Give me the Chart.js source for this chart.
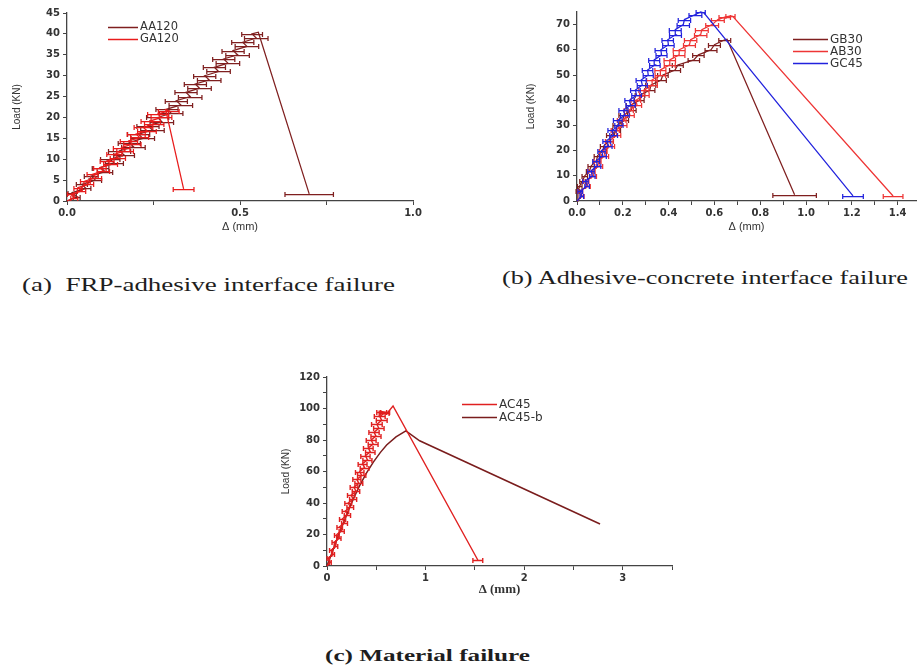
<!DOCTYPE html>
<html><head><meta charset="utf-8">
<script src="https://cdn.jsdelivr.net/npm/chart.js@4.4.0/dist/chart.umd.min.js"></script>
<style>
html,body{margin:0;padding:0;background:#fff;width:918px;height:668px;overflow:hidden;position:relative;}
.wrap{position:absolute;}
.cap{position:absolute;font-family:"Liberation Serif","Times New Roman",serif;color:#1e1e1e;white-space:nowrap;transform-origin:0 50%;line-height:1;}
</style></head><body>
<div class="wrap" style="left:0;top:0"><canvas id="ca" width="440" height="240"></canvas></div>
<div class="wrap" style="left:510px;top:0"><canvas id="cb" width="408" height="240"></canvas></div>
<div class="wrap" style="left:270px;top:360px"><canvas id="cc" width="420" height="245"></canvas></div>
<div class="cap" id="capA" data-left="22" data-cy="285" data-w="373" style="font-size:18px">(a)&nbsp; FRP-adhesive interface failure</div>
<div class="cap" id="capB" data-left="502" data-cy="278" data-w="406" style="font-size:18px">(b) Adhesive-concrete interface failure</div>
<div class="cap" id="capC" data-left="325" data-cy="656" data-w="205" style="font-size:16px;font-weight:bold">(c) Material failure</div>
<script>
// ---------- DATA ----------
// (a) FRP-adhesive interface failure
const aa120X = [0,0.028,0.015,0.055,0.043,0.082,0.070,0.110,0.097,0.137,0.125,0.165,0.152,0.192,0.180,0.219,0.207,0.247,0.234,0.274,0.262,0.301,0.289,0.329,0.316,0.356,0.344,0.383,0.371,0.411,0.398,0.438,0.426,0.465,0.453,0.493,0.480,0.520,0.508,0.547,0.535,0.553,0.700];
const aa120Y = [0,1,2,3,4,5,6,7,8,9,10,11,12,13,14,15,16,17,18,19,20,21,22,23,24,25,26,27,28,29,30,31,32,33,34,35,36,37,38,39,40,40.4,1.7];
const aa120Err = [0,0.01,0.012,0.014,0.016,0.018,0.02,0.022,0.024,0.026,0.028,0.03,
  0.032,0.034,0.032,0.034,0.032,0.034,0.032,0.034,0.032,0.034,0.032,0.034,0.032,0.034,0.032,0.034,0.032,0.034,0.032,0.034,0.032,0.034,0.032,0.034,0.032,0.034,0.032,0.034,0.03,0,0.07];
const ga120X = [0,0.021,0.011,0.042,0.032,0.063,0.053,0.084,0.074,0.105,0.095,0.126,0.116,0.147,0.137,0.168,0.158,0.189,0.179,0.210,0.200,0.231,0.221,0.252,0.242,0.273,0.263,0.294,0.285,0.337];
const ga120Y = [0,0.8,1.6,2.4,3.2,4.0,4.8,5.6,6.4,7.2,8.0,8.8,9.6,10.4,11.2,12.0,12.8,13.6,14.4,15.2,16.0,16.8,17.6,18.4,19.2,20.0,20.8,21.6,21.9,2.9];
const ga120Err = [0,0.01,0.01,0.012,0.012,0.014,0.014,0.016,0.016,0.018,0.018,0.02,0.02,0.022,0.022,0.024,0.024,0.025,0.025,0.026,0.026,0.027,0.027,0.028,0.028,0.03,0.03,0.03,0,0.03];
// (b) Adhesive-concrete interface failure
const gb30X = [0,0.004,0.012,0.024,0.034,0.055,0.062,0.085,0.090,0.113,0.118,0.142,0.146,0.172,0.175,0.206,0.202,0.238,0.235,0.272,0.275,0.318,0.322,0.367,0.375,0.428,0.440,0.510,0.530,0.585,0.600,0.645,0.655,0.950];
const gb30Y = [0,4,6,8,10,12,14,16,18,20,22,24,26,28,30,32,34,36,38,40,42,44,46,48,50,52,54,56,58,60,62,64,64.2,2.5];
const gb30Err = [0,0.008,0.01,0.012,0.012,0.014,0.014,0.015,0.015,0.016,0.016,0.017,0.017,0.018,0.018,0.019,0.019,0.02,0.02,0.021,0.021,0.022,0.022,0.023,0.023,0.024,0.024,0.025,0.025,0.026,0.026,0.026,0,0.095];
const ab30X = [0,0.023,0.015,0.048,0.040,0.073,0.065,0.098,0.090,0.123,0.115,0.148,0.141,0.174,0.167,0.200,0.195,0.231,0.226,0.262,0.257,0.294,0.292,0.329,0.327,0.364,0.364,0.405,0.405,0.446,0.446,0.491,0.496,0.540,0.545,0.590,0.615,0.645,0.670,0.680,1.380];
const ab30Y = [0,2,4,6,8,10,12,14,16,18,20,22,24,26,28,30,32,34,36,38,40,42,44,46,48,50,52,54,56,58,60,62,64,66,68,70,72,73,73.5,73.3,2];
const ab30Err = [0,0.008,0.01,0.01,0.012,0.012,0.014,0.014,0.015,0.015,0.016,0.016,0.017,0.017,0.018,0.018,0.019,0.019,0.02,0.02,0.021,0.021,0.022,0.022,0.023,0.023,0.024,0.024,0.025,0.025,0.026,0.026,0.027,0.027,0.028,0.028,0.028,0.025,0.02,0,0.043];
const gc45X = [0,0.021,0.014,0.044,0.037,0.067,0.061,0.090,0.084,0.113,0.107,0.137,0.130,0.160,0.153,0.183,0.178,0.209,0.203,0.234,0.229,0.260,0.255,0.285,0.280,0.311,0.308,0.340,0.337,0.369,0.366,0.399,0.396,0.430,0.429,0.464,0.469,0.517,0.540,0.555,1.205];
const gc45Y = [0,2,4,6,8,10,12,14,16,18,20,22,24,26,28,30,32,34,36,38,40,42,44,46,48,50,52,54,56,58,60,62,64,66,68,70,72,74,75,74.6,2];
const gc45Err = [0,0.008,0.01,0.01,0.012,0.012,0.014,0.014,0.015,0.015,0.016,0.016,0.017,0.017,0.018,0.018,0.019,0.019,0.02,0.02,0.02,0.021,0.021,0.022,0.022,0.022,0.023,0.023,0.024,0.024,0.025,0.025,0.025,0.026,0.026,0.027,0.027,0.028,0.02,0,0.045];
// (c) Material failure
const ac45X = [0,0.033,0.013,0.062,0.042,0.091,0.071,0.120,0.100,0.149,0.129,0.178,0.158,0.207,0.187,0.236,0.216,0.265,0.245,0.294,0.274,0.323,0.303,0.352,0.332,0.381,0.361,0.410,0.390,0.439,0.419,0.468,0.448,0.497,0.477,0.526,0.506,0.555,0.535,0.580,0.555,0.590,0.610,0.670,1.530];
const ac45Y = [0,2.5,5,7.5,10,12.5,15,17.5,20,22.5,25,27.5,30,32.5,35,37.5,40,42.5,45,47.5,50,52.5,55,57.5,60,62.5,65,67.5,70,72.5,75,77.5,80,82.5,85,87.5,90,92.5,95,97,98,97.5,97,101.6,3.8];
const ac45Err = [0,0.01,0.012,0.014,0.016,0.018,0.02,0.022,0.024,0.026,0.028,0.03,0.031,0.032,0.033,0.034,0.035,0.036,0.037,0.038,0.039,0.04,0.041,0.042,0.043,0.044,0.045,0.046,0.047,0.048,0.049,0.05,0.05,0.051,0.052,0.053,0.054,0.055,0.055,0.05,0.05,0.045,0,0,0.05];
const ac45bX = [0,0.06,0.12,0.18,0.235,0.285,0.335,0.40,0.47,0.54,0.605,0.70,0.80,0.94,2.77];
const ac45bY = [0,10,20,29.5,38,45,51.5,59,66,72,76.8,82,85.8,79.5,26.7];

const pts = (xs, ys) => xs.map((x, i) => ({x: x, y: ys[i]}));

// ---------- PLUGINS ----------
const errorBars = {
  id: 'errorBars',
  afterDatasetDraw(chart, args) {
    const ds = chart.data.datasets[args.index];
    if (!ds.xErr) return;
    const xs = chart.scales.x, ys = chart.scales.y, ctx = chart.ctx;
    ctx.save();
    ctx.strokeStyle = ds.borderColor;
    ctx.lineWidth = ds.borderWidth;
    ds.data.forEach((p, i) => {
      const e = ds.xErr[i];
      if (!e) return;
      const y = Math.round(ys.getPixelForValue(p.y)) + 0.5;
      const x0 = xs.getPixelForValue(p.x - e), x1 = xs.getPixelForValue(p.x + e);
      ctx.beginPath();
      ctx.moveTo(x0, y); ctx.lineTo(x1, y);
      ctx.moveTo(x0, y - 2.5); ctx.lineTo(x0, y + 2.5);
      ctx.moveTo(x1, y - 2.5); ctx.lineTo(x1, y + 2.5);
      ctx.stroke();
    });
    ctx.restore();
  }
};
const innerLegend = {
  id: 'innerLegend',
  afterDraw(chart, args, o) {
    if (!o || o.x === undefined) return;
    const ctx = chart.ctx;
    ctx.save();
    chart.data.datasets.forEach((ds, i) => {
      const y = Math.round(o.y + i * o.dy) + 0.5;
      ctx.strokeStyle = ds.borderColor;
      ctx.lineWidth = 1.5;
      ctx.beginPath(); ctx.moveTo(o.x, y); ctx.lineTo(o.x + o.len, y); ctx.stroke();
      ctx.fillStyle = '#333';
      ctx.font = o.font;
      ctx.textBaseline = 'middle';
      ctx.textAlign = 'left';
      ctx.fillText(ds.label, o.x + o.len + 2, y);
    });
    ctx.restore();
  }
};
Chart.register(errorBars, innerLegend);

const AX = '#444';
const tickFont = {family: 'DejaVu Sans', size: 10, weight: 'bold'};
function yAxis(max, step, labelEvery, width, titlePad) {
  return {
    type: 'linear', position: 'left', min: 0, max: max,
    afterFit: s => { s.width = width; },
    border: {display: true, color: AX, width: 1.3},
    grid: {display: true, drawOnChartArea: false, drawTicks: true, tickLength: 4, tickColor: AX},
    ticks: {stepSize: step, includeBounds: false, padding: 3, color: '#333', font: tickFont,
      callback: v => (Math.abs(v / labelEvery - Math.round(v / labelEvery)) < 1e-6 ? String(Math.round(v)) : '')},
    title: {display: true, text: 'Load (KN)', color: '#333', font: {family: 'Liberation Sans', size: 10}, padding: {top: titlePad, bottom: 0}}
  };
}
function xAxis(max, step, labelEvery, dec, height, titleFont, titlePadB) {
  return {
    type: 'linear', position: 'bottom', min: 0, max: max,
    afterFit: s => { s.height = height; },
    border: {display: true, color: AX, width: 1.3},
    grid: {display: true, drawOnChartArea: false, drawTicks: true, tickLength: 4, tickColor: AX},
    ticks: {stepSize: step, includeBounds: false, padding: 2, color: '#333', font: tickFont, maxRotation: 0, autoSkip: false,
      callback: v => (Math.abs(v / labelEvery - Math.round(v / labelEvery)) < 1e-6 ? v.toFixed(dec) : '')},
    title: {display: true, text: '\u0394 (mm)', color: '#333', font: titleFont, padding: {top: 0, bottom: titlePadB}}
  };
}
function ds(label, xs, ys, err, color, order, width) {
  return {label: label, data: pts(xs, ys), xErr: err, borderColor: color, backgroundColor: color,
    borderWidth: width || 1.25, showLine: true, pointRadius: 0, tension: 0, order: order, clip: 6};
}
function baseOpts(scales, pad, legend) {
  return {
    responsive: false, animation: false, devicePixelRatio: 1,
    layout: {padding: pad},
    scales: scales,
    plugins: {legend: {display: false}, tooltip: {enabled: false}, innerLegend: legend}
  };
}

const MAROON = '#7f1f1f', RED = '#e81c1c', RED2 = '#ee3535', BLUE = '#2222dd';

new Chart(document.getElementById('ca'), {
  type: 'scatter',
  data: {datasets: [
    ds('AA120', aa120X, aa120Y, aa120Err, MAROON, 1),
    ds('GA120', ga120X, ga120Y, ga120Err, RED, 0)
  ]},
  options: baseOpts({
    x: xAxis(1.0, 0.25, 0.5, 1, 39, {family: 'Liberation Sans', size: 11}, 6),
    y: yAxis(45, 5, 5, 67, 11)
  }, {top: 13, right: 27, left: 0, bottom: 0},
  {x: 108, y: 27, dy: 11.6, len: 30, font: '11.5px "DejaVu Sans"'})
});

new Chart(document.getElementById('cb'), {
  type: 'scatter',
  data: {datasets: [
    ds('GB30', gb30X, gb30Y, gb30Err, MAROON, 2),
    ds('AB30', ab30X, ab30Y, ab30Err, RED2, 1),
    ds('GC45', gc45X, gc45Y, gc45Err, BLUE, 0)
  ]},
  options: baseOpts({
    x: xAxis(1.48, 0.1, 0.2, 1, 39, {family: 'Liberation Sans', size: 11}, 6),
    y: yAxis(75, 5, 10, 67, 15)
  }, {top: 12, right: 2, left: 0, bottom: 0},
  {x: 283, y: 39, dy: 12.2, len: 35, font: '12px "DejaVu Sans"'})
});

new Chart(document.getElementById('cc'), {
  type: 'scatter',
  data: {datasets: [
    ds('AC45', ac45X, ac45Y, ac45Err, '#e02020', 0, 1.4),
    ds('AC45-b', ac45bX, ac45bY, null, '#7a1d1d', 1, 1.5)
  ]},
  options: baseOpts({
    x: xAxis(3.5, 0.5, 1, 0, 39, {family: 'Liberation Serif', size: 13, weight: 'bold'}, 8),
    y: yAxis(120, 10, 20, 57, 10)
  }, {top: 17, right: 18, left: 0, bottom: 0},
  {x: 192, y: 44, dy: 13, len: 35, font: '12px "DejaVu Sans"'})
});

// fit captions to the widths they occupy in the figure
document.querySelectorAll('.cap').forEach(el => {
  const r = el.getBoundingClientRect();
  el.style.left = el.dataset.left + 'px';
  el.style.top = (+el.dataset.cy - r.height / 2) + 'px';
  el.style.transform = 'scaleX(' + (+el.dataset.w / r.width) + ')';
});
</script>
</body></html>
